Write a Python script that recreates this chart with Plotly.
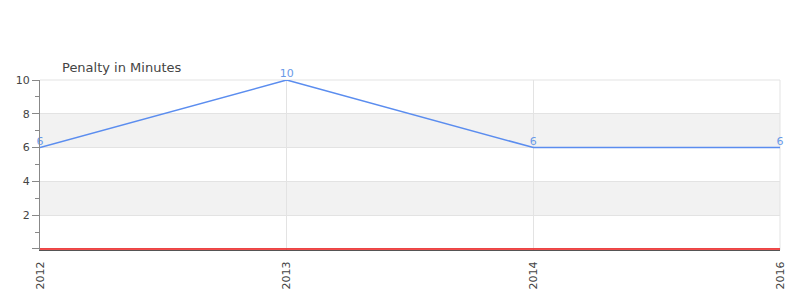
import plotly.graph_objects as go

years = ["2012", "2013", "2014", "2016"]
penalty = [6, 10, 6, 6]
zero_series = [0, 0, 0, 0]
band_ranges = [(2, 4), (6, 8)]
ytick_vals = [0, 2, 4, 6, 8, 10]
ytick_text = ["", "2", "4", "6", "8", "10"]

fig = go.Figure()
fig.add_trace(go.Scatter(
    x=years, y=zero_series, mode="lines",
    line=dict(color="#ee1111", width=1.5), hoverinfo="skip", showlegend=False,
))
fig.add_trace(go.Scatter(
    x=years, y=penalty, mode="lines+text",
    text=[str(v) for v in penalty], textposition="top center",
    textfont=dict(color="#6a9ae8", size=11, family="DejaVu Sans"),
    line=dict(color="#5b8def", width=1.5), showlegend=False, cliponaxis=False,
))

shapes = []
for lo, hi in band_ranges:
    shapes.append(dict(type="rect", xref="paper", yref="y", x0=0, x1=1, y0=lo, y1=hi,
                       fillcolor="#f2f2f2", line=dict(width=0), layer="below"))
# edge grid lines (top and right)
shapes.append(dict(type="line", xref="paper", yref="paper", x0=0, x1=1, y0=1, y1=1,
                   line=dict(color="#e3e3e3", width=1), layer="below"))
shapes.append(dict(type="line", xref="paper", yref="paper", x0=1, x1=1, y0=0, y1=1,
                   line=dict(color="#e3e3e3", width=1), layer="below"))

fig.update_layout(
    width=800, height=300,
    margin=dict(l=40, r=20, t=80, b=50),
    paper_bgcolor="white", plot_bgcolor="white",
    font=dict(family="DejaVu Sans", size=11, color="#444"),
    shapes=shapes,
    annotations=[dict(text="Penalty in Minutes", xref="paper", yref="paper",
                      x=0.027, y=1.0, yshift=3, xanchor="left", yanchor="bottom",
                      showarrow=False, font=dict(size=13, color="#444", family="DejaVu Sans"))],
    xaxis=dict(type="category", range=[0, 3], showgrid=True, gridcolor="#e3e3e3",
               tickangle=-90, ticks="outside", ticklen=6, tickcolor="rgba(0,0,0,0)",
               showline=True, linecolor="#555", linewidth=1,
               tickfont=dict(size=11, color="#444"), zeroline=False, mirror=False),
    yaxis=dict(range=[-0.06, 10], tickvals=ytick_vals, ticktext=ytick_text,
               showgrid=True, gridcolor="#e3e3e3", ticks="outside", ticklen=7,
               tickcolor="#888", showline=True, linecolor="#888", zeroline=False,
               minor=dict(dtick=1, ticks="outside", ticklen=4, tickcolor="#888", showgrid=False),
               tickfont=dict(size=11, color="#444")),
)

fig.write_html("out.html")
